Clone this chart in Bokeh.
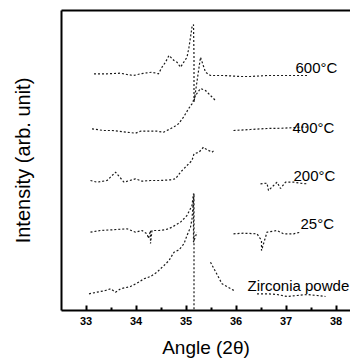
import math
from bokeh.plotting import figure
from bokeh.models import LinearAxis, FixedTicker, Label, Range1d
from bokeh.embed import file_html
from bokeh.resources import INLINE

NaN = float("nan")

# ---- data (angle 2theta, intensity in arbitrary units) ----
t600_x = [33.16, 33.42, 33.69, 33.82, 33.95, 34.09, 34.22, 34.32, 34.45, 34.52, 34.59, 34.66,
          34.76, 34.82, 34.89, 35.02, 35.06, 35.09, 35.12, 35.15, 35.16, 35.16, 35.29, 35.39,
          35.49, 35.75, 36.09, 36.29, 36.62, 36.95, 37.29, 37.42]
t600_y = [236.7, 236.7, 237.3, 236.0, 235.0, 236.7, 237.7, 238.3, 236.7, 243.3, 248.3, 255.0,
          250.0, 248.3, 243.3, 253.3, 263.3, 273.3, 283.3, 286.0, 253.3, 208.3, 253.3, 238.3,
          235.0, 235.0, 234.0, 234.0, 235.0, 235.0, 235.0, 235.0]

t400_x = [33.12, 33.35, 33.52, 33.82, 33.99, 34.09, 34.42, 34.55, 34.75, 34.85, 34.95, 35.05,
          35.12, 35.19, 35.29, 35.39, 35.45, 35.59, NaN, 35.95, 36.29, 36.62, 36.95, 37.29, 37.42]
t400_y = [181.7, 180.0, 180.0, 178.3, 177.3, 179.3, 179.3, 178.3, 183.3, 186.7, 193.3, 201.7,
          206.7, 215.0, 222.0, 220.0, 217.0, 210.0, NaN, 180.0, 181.0, 182.0, 182.3, 183.3, 183.3]

t200_x = [33.09, 33.22, 33.42, 33.59, 33.76, 33.99, 34.12, 34.29, 34.49, 34.69, 34.79, 34.89,
          35.02, 35.12, 35.16, 35.26, 35.35, 35.39, 35.52, 35.56, NaN, 35.95, NaN,
          36.49, 36.62, 36.65, 36.82, 36.89, 36.99, 37.16, 37.29, 37.42]
t200_y = [130.0, 128.3, 130.0, 138.3, 128.3, 131.7, 129.3, 130.0, 130.0, 130.7, 131.7, 138.3,
          145.0, 150.0, 156.7, 158.3, 163.3, 161.7, 158.3, 160.0, NaN, 135.0, NaN,
          126.7, 127.3, 120.0, 128.3, 122.0, 128.3, 128.3, 127.3, 126.7]

t25_x = [33.09, 33.29, 33.52, 33.82, 33.99, 34.12, 34.22, 34.25, 34.29, 34.29, 34.32, 34.46,
         34.59, 34.72, 34.89, 35.02, 35.12, 35.15, 35.15, 35.22, NaN,
         35.95, 36.15, 36.42, 36.51, 36.51, 36.62, 36.82, 36.95, 37.15, 37.29]
t25_y = [78.3, 80.0, 80.7, 81.7, 78.3, 80.0, 76.7, 72.0, 80.0, 67.0, 80.0, 80.0,
         80.7, 83.3, 88.3, 95.0, 105.0, 117.0, 68.3, 78.3, NaN,
         76.7, 77.3, 76.7, 70.0, 60.0, 78.3, 80.0, 76.7, 76.7, 78.3]

zr_x = [33.06, 33.22, 33.39, 33.49, 33.59, 33.69, 33.89, 34.02, 34.16, 34.29, 34.42, 34.56,
        34.66, 34.76, 34.86, 34.96, 35.02, 35.09, 35.12, 35.16, 35.16, NaN,
        35.49, 35.72, 35.96, NaN,
        36.42, 36.62, 36.82, 37.02, 37.22, 37.42, 37.62, 37.79]
zr_y = [16.7, 18.3, 20.0, 21.7, 18.3, 21.7, 24.0, 27.3, 31.7, 34.0, 38.3, 45.0,
        50.0, 58.3, 60.7, 66.7, 75.0, 83.3, 91.7, 117.0, 0.0, NaN,
        48.3, 26.7, 20.0, NaN,
        16.7, 16.7, 16.0, 14.0, 15.0, 16.0, 15.0, 14.0]

x_ticks = [33, 34, 35, 36, 37, 38]
x_minor = [32.5, 33.5, 34.5, 35.5, 36.5, 37.5, 38.5]
series_labels = ["600\u00b0C", "400\u00b0C", "200\u00b0C", "25\u00b0C", "Zirconia powde"]

FONT = "Liberation Sans"

p = figure(width=350, height=361, output_backend="svg", toolbar_location=None,
           x_range=Range1d(32.51, 38.29), y_range=Range1d(0, 300),
           x_axis_location=None, y_axis_location=None,
           min_border_left=61, min_border_right=0, min_border_top=10, min_border_bottom=51)
p.outline_line_color = None
p.grid.visible = False
p.background_fill_color = "white"
p.border_fill_color = "white"

# bottom axis
xa = LinearAxis(ticker=FixedTicker(ticks=x_ticks, minor_ticks=x_minor))
xa.axis_label = "Angle (2\u03b8)"
xa.axis_label_text_font = FONT
xa.axis_label_text_font_size = "19px"
xa.axis_label_text_font_style = "normal"
xa.axis_label_text_color = "black"
xa.axis_label_standoff = 9
xa.major_label_text_font = FONT
xa.major_label_text_font_size = "11px"
xa.major_label_text_font_style = "bold"
xa.major_label_text_color = "black"
xa.major_label_standoff = 6
xa.major_tick_in = 5
xa.major_tick_out = 0
xa.minor_tick_in = 3
xa.minor_tick_out = 0
xa.axis_line_width = 2
xa.major_tick_line_width = 2
xa.minor_tick_line_width = 2
p.add_layout(xa, "below")

# left axis (no ticks)
ya = LinearAxis(ticker=FixedTicker(ticks=[]))
ya.axis_label = "Intensity (arb. unit)"
ya.axis_label_text_font = FONT
ya.axis_label_text_font_size = "20px"
ya.axis_label_text_font_style = "normal"
ya.axis_label_text_color = "black"
ya.axis_label_standoff = 28
ya.major_tick_in = 0
ya.major_tick_out = 0
ya.minor_tick_in = 0
ya.minor_tick_out = 0
ya.axis_line_width = 2
p.add_layout(ya, "left")

# top frame line
ta = LinearAxis(ticker=FixedTicker(ticks=[]))
ta.major_tick_in = 0
ta.major_tick_out = 0
ta.minor_tick_in = 0
ta.minor_tick_out = 0
ta.axis_line_width = 2
ta.major_label_text_font_size = "0px"
p.add_layout(ta, "above")

style = dict(line_color="#1a1a1a", line_width=1.2, line_dash="2 2")
for xs, ys in [(t600_x, t600_y), (t400_x, t400_y), (t200_x, t200_y), (t25_x, t25_y), (zr_x, zr_y)]:
    p.line(xs, ys, **style)

label_pos = [(37.19, 243), (37.13, 183), (37.15, 135), (37.29, 87), (36.23, 25)]
for txt, (lx, ly) in zip(series_labels, label_pos):
    p.add_layout(Label(x=lx, y=ly, text=txt, text_font=FONT, text_font_size="15px",
                       text_baseline="alphabetic", text_align="left", text_color="black"))

open("out.html", "w").write(file_html(p, INLINE))
